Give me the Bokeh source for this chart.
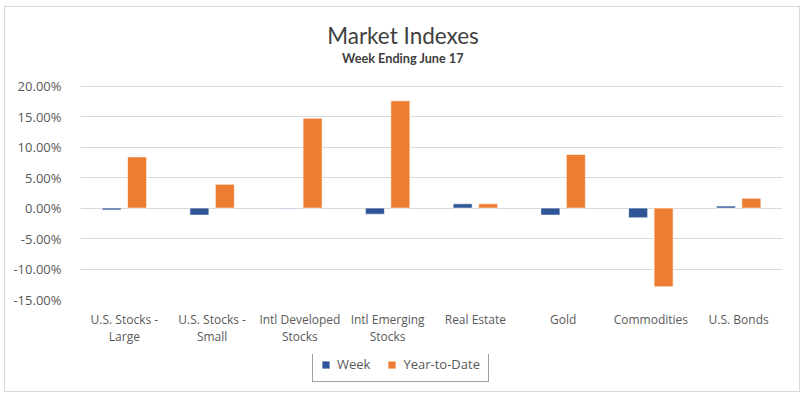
from bokeh.plotting import figure
from bokeh.layouts import column
from bokeh.models import (FactorRange, NumeralTickFormatter, FixedTicker, Label,
                          Legend, LegendItem, ColumnDataSource, Range1d)
from bokeh.transform import dodge
from bokeh.embed import file_html
from bokeh.resources import INLINE

categories = ["U.S. Stocks -\nLarge", "U.S. Stocks -\nSmall", "Intl Developed\nStocks",
              "Intl Emerging\nStocks", "Real Estate", "Gold", "Commodities", "U.S. Bonds"]
week = [-0.003, -0.0115, -0.001, -0.010, 0.007, -0.0115, -0.016, 0.0033]
ytd = [0.084, 0.039, 0.1475, 0.176, 0.007, 0.088, -0.129, 0.016]
y_ticks = [-0.15, -0.10, -0.05, 0.0, 0.05, 0.10, 0.15, 0.20]
title_text = "Market Indexes"
subtitle_text = "Week Ending June 17"
series_names = ["Week", "Year-to-Date"]

BLUE = "#2F5597"
ORANGE = "#ED7D31"
GRAY = "#595959"

src = ColumnDataSource(dict(cat=categories, week=week, ytd=ytd))

p = figure(x_range=FactorRange(*categories), y_range=Range1d(-0.15, 0.3176),
           width=794, height=347, output_backend="svg", toolbar_location=None,
           min_border_left=75, min_border_right=17, min_border_top=7, min_border_bottom=55)
p.outline_line_color = None
p.background_fill_color = "white"
p.border_fill_color = "white"

p.vbar(x=dodge("cat", -0.145, range=p.x_range), top="week", width=0.217, source=src,
       fill_color=BLUE, line_color="white", line_alpha=0.6, line_width=1)
p.vbar(x=dodge("cat", 0.145, range=p.x_range), top="ytd", width=0.217, source=src,
       fill_color=ORANGE, line_color="white", line_alpha=0.6, line_width=1)

p.xgrid.grid_line_color = None
p.ygrid.grid_line_color = "#d9d9d9"
p.ygrid.grid_line_width = 1
p.yaxis.ticker = FixedTicker(ticks=y_ticks)
p.yaxis.formatter = NumeralTickFormatter(format="0.00%")
for ax in (p.xaxis, p.yaxis):
    ax.axis_line_color = None
    ax.major_tick_line_color = None
    ax.minor_tick_line_color = None
    ax.major_label_text_color = GRAY
    ax.major_label_text_font = "Open Sans"
p.yaxis.major_label_text_font_size = "13px"
p.yaxis.major_label_standoff = 13
p.xaxis.major_label_text_font_size = "12px"
p.xaxis.major_label_text_line_height = 1.0
p.xaxis.major_label_standoff = 5

p.add_layout(Label(x=322.5, y=0.2828, x_units="screen", y_units="data", text=title_text,
                   text_align="center", text_baseline="middle", text_font="Lato",
                   text_font_size="22.5px", text_color="#404040"))
p.add_layout(Label(x=322.5, y=0.2456, x_units="screen", y_units="data", text=subtitle_text,
                   text_align="center", text_baseline="middle", text_font="Lato",
                   text_font_size="12.7px", text_font_style="bold", text_color="#404040"))

# legend strip (bars drawn here fall outside its visible y range; only the legend shows)
p2 = figure(width=794, height=37, output_backend="svg", toolbar_location=None,
            x_range=FactorRange(*categories), y_range=Range1d(1, 2),
            x_axis_type=None, y_axis_type=None,
            min_border_left=75, min_border_right=17, min_border_top=0, min_border_bottom=0)
p2.outline_line_color = None
p2.xgrid.grid_line_color = None
p2.ygrid.grid_line_color = None
p2.background_fill_color = "white"
p2.border_fill_color = "white"
lw = p2.vbar(x="cat", top="week", width=0.2, source=src, fill_color=BLUE, line_color=None)
ly = p2.vbar(x="cat", top="ytd", width=0.2, source=src, fill_color=ORANGE, line_color=None)

legend = Legend(items=[LegendItem(label=series_names[0], renderers=[lw]),
                       LegendItem(label=series_names[1], renderers=[ly])],
                orientation="horizontal", location=(232, 9),
                glyph_width=9, glyph_height=9, label_standoff=7, spacing=17,
                padding=8, label_height=13, margin=0,
                label_text_font="Open Sans", label_text_font_size="13px",
                label_text_color=GRAY, border_line_color="#3f3f3f", border_line_width=1,
                background_fill_color="white", background_fill_alpha=1)
p2.add_layout(legend, "center")

layout = column(p, p2, spacing=0,
                styles={"margin-left": "4px", "margin-top": "6px",
                        "border": "1px solid #d9d9d9"})
open("out.html", "w").write(file_html(layout, INLINE))
